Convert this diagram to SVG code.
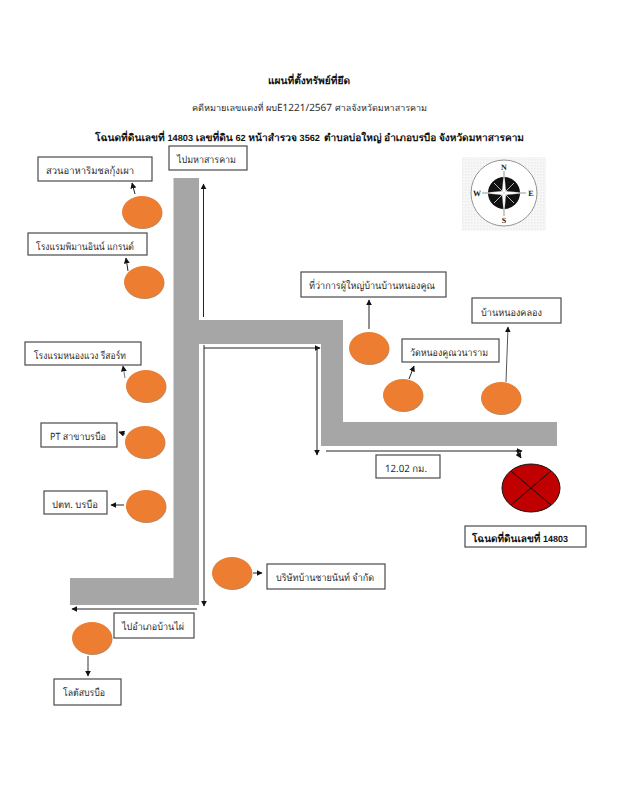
<svg xmlns="http://www.w3.org/2000/svg" width="619" height="800" viewBox="0 0 619 800">
<style>
text{font-family:"Noto Sans","Liberation Sans","DejaVu Sans",sans-serif;fill:#2b2b2b;font-size:10px;text-rendering:geometricPrecision}
.b{font-weight:bold;fill:#111}
.n{font-family:"Liberation Sans",sans-serif;font-size:9px}
.t{font-size:9.100px}
.box{fill:#fff;stroke:#4a4a4a;stroke-width:1.2}
.dot{fill:#ed7d31}
.sh{fill:#b58a68}
.road{fill:#a6a6a6}
.c line{stroke:#222;stroke-width:1;fill:none;marker-end:url(#a)}
.x{stroke:#111;stroke-width:1}
.cp{font-family:"Liberation Serif",serif;font-weight:bold;font-size:8px;text-anchor:middle;fill:#222}
</style>
<defs>
<marker id="a" viewBox="0 0 10 10" refX="9" refY="5" markerWidth="6" markerHeight="6" markerUnits="userSpaceOnUse" orient="auto"><path d="M0 0L10 5L0 10Z" fill="#111"/></marker>
<pattern id="d" width="3" height="3" patternUnits="userSpaceOnUse"><rect width="3" height="3" fill="#f7f7f7"/><rect width="1.5" height="1.5" fill="#ececec"/></pattern>
</defs>
<rect width="619" height="800" fill="#fff"/>
<g id="title">
<text class="b" x="268" y="84" textLength="82" lengthAdjust="spacingAndGlyphs">แผนที่ตั้งทรัพย์ที่ยึด</text>
<text class="t" x="192" y="111" textLength="85" lengthAdjust="spacingAndGlyphs">คดีหมายเลขแดงที่ ผบ</text>
<text x="277" y="111" textLength="55" lengthAdjust="spacingAndGlyphs">E1221/2567</text>
<text class="t" x="335" y="111" textLength="92" lengthAdjust="spacingAndGlyphs">ศาลจังหวัดมหาสารคาม</text>
<text class="b" x="95" y="141" textLength="225" lengthAdjust="spacingAndGlyphs">โฉนดที่ดินเลขที่ <tspan class="n">14803</tspan> เลขที่ดิน <tspan class="n">62</tspan> หน้าสำรวจ <tspan class="n">3562</tspan></text>
<text class="b" x="324" y="141" textLength="200" lengthAdjust="spacingAndGlyphs">ตำบลบ่อใหญ่ อำเภอบรบือ จังหวัดมหาสารคาม</text>
</g>
<g id="roads">
<path class="road" d="M173.500 178H199V320H343V422H557V446H321V344H199V605H70V578H173.500Z"/>
</g>
<g id="compass">
<rect x="462" y="157" width="84" height="74" fill="url(#d)"/>
<circle cx="504" cy="193" r="33" fill="#fff" stroke="#888" stroke-width=".9"/>
<circle cx="504" cy="193" r="16" fill="#111"/>
<path d="M504 171L506 191L526 193L506 195L504 216L502 195L482 193L502 191Z" fill="#fff" stroke="#444" stroke-width=".3"/>
<path d="M494 183L504 193L514 183M494 203L504 193L514 203" fill="none" stroke="#ddd" stroke-width=".8"/>
<text class="cp" x="504" y="170">N</text>
<text class="cp" x="531" y="196">E</text>
<text class="cp" x="504" y="223">S</text>
<text class="cp" x="477" y="196">W</text>
</g>
<g id="connectors" class="c">
<line x1="203.500" y1="317" x2="203.500" y2="184"/>
<line x1="204" y1="348" x2="320" y2="348"/>
<line x1="204" y1="345" x2="204" y2="606"/>
<line x1="317" y1="347" x2="317" y2="455"/>
<line x1="326" y1="451" x2="522" y2="451"/>
<line x1="516" y1="450" x2="521" y2="458"/>
<line x1="197" y1="609" x2="72" y2="609"/>
<line x1="88" y1="656" x2="88" y2="676" style="stroke:#777;stroke-width:1.500"/>
<line x1="124" y1="505" x2="111" y2="505"/>
<line x1="125" y1="434" x2="119" y2="432"/>
<line x1="125" y1="378" x2="123" y2="366" style="stroke:#777"/>
<line x1="128" y1="271" x2="126" y2="258"/>
<line x1="135" y1="194" x2="132" y2="183"/>
<line x1="369" y1="329" x2="369" y2="300"/>
<line x1="409" y1="379" x2="414" y2="366"/>
<line x1="506" y1="382" x2="508" y2="327" style="stroke:#555"/>
<line x1="253" y1="573" x2="262" y2="573"/>
</g>
<g id="n1"><ellipse class="sh" cx="142.500" cy="213" rx="20" ry="16"/><ellipse class="dot" cx="142" cy="212" rx="20" ry="16"/></g>
<g id="n2"><ellipse class="sh" cx="144.500" cy="283" rx="20" ry="16"/><ellipse class="dot" cx="144" cy="282" rx="20" ry="16"/></g>
<g id="n3"><ellipse class="sh" cx="146.500" cy="387" rx="20" ry="16"/><ellipse class="dot" cx="146" cy="386" rx="20" ry="16"/></g>
<g id="n4"><ellipse class="sh" cx="145.500" cy="443" rx="20" ry="16"/><ellipse class="dot" cx="145" cy="442" rx="20" ry="16"/></g>
<g id="n5"><ellipse class="sh" cx="146.500" cy="507" rx="20" ry="16"/><ellipse class="dot" cx="146" cy="506" rx="20" ry="16"/></g>
<g id="n6"><ellipse class="sh" cx="369.500" cy="349" rx="20" ry="16"/><ellipse class="dot" cx="369" cy="348" rx="20" ry="16"/></g>
<g id="n7"><ellipse class="sh" cx="403.500" cy="396" rx="20" ry="16"/><ellipse class="dot" cx="403" cy="395" rx="20" ry="16"/></g>
<g id="n8"><ellipse class="sh" cx="501.500" cy="399" rx="20" ry="16"/><ellipse class="dot" cx="501" cy="398" rx="20" ry="16"/></g>
<g id="n9"><ellipse class="sh" cx="232.500" cy="574" rx="20" ry="16"/><ellipse class="dot" cx="232" cy="573" rx="20" ry="16"/></g>
<g id="n10"><ellipse class="sh" cx="92.500" cy="639" rx="20" ry="16"/><ellipse class="dot" cx="92" cy="638" rx="20" ry="16"/></g>
<g id="target">
<ellipse cx="531" cy="488" rx="29" ry="24" fill="#c00000" stroke="#111" stroke-width="1"/>
<line class="x" x1="511" y1="471" x2="551" y2="505"/>
<line class="x" x1="551" y1="471" x2="511" y2="505"/>
</g>
<g id="l1"><rect class="box" x="38" y="157" width="114" height="24"/><text x="46" y="174" textLength="88" lengthAdjust="spacingAndGlyphs">สวนอาหาริมชลกุ้งเผา</text></g>
<g id="l2"><rect class="box" x="169" y="146" width="78" height="24"/><text x="177" y="163" textLength="59" lengthAdjust="spacingAndGlyphs">ไปมหาสารคาม</text></g>
<g id="l3"><rect class="box" x="28" y="233" width="119" height="22"/><text x="36" y="250" textLength="98" lengthAdjust="spacingAndGlyphs">โรงแรมพิมานอินน์ แกรนด์</text></g>
<g id="l4"><rect class="box" x="301" y="272" width="145" height="25"/><text x="309" y="289" textLength="126" lengthAdjust="spacingAndGlyphs">ที่ว่าการผู้ใหญ่บ้านบ้านหนองคูณ</text></g>
<g id="l5"><rect class="box" x="402" y="339" width="97" height="23"/><text x="410" y="356" textLength="78" lengthAdjust="spacingAndGlyphs">วัดหนองคูณวนาราม</text></g>
<g id="l6"><rect class="box" x="472" y="298" width="89" height="25"/><text x="481" y="316" textLength="61" lengthAdjust="spacingAndGlyphs">บ้านหนองคลอง</text></g>
<g id="l7"><rect class="box" x="25" y="342" width="116" height="23"/><text x="34" y="359" textLength="92" lengthAdjust="spacingAndGlyphs">โรงแรมหนองแวง รีสอร์ท</text></g>
<g id="l8"><rect class="box" x="41" y="423" width="76" height="24"/><text x="50" y="440" textLength="56" lengthAdjust="spacingAndGlyphs">PT สาขาบรบือ</text></g>
<g id="l9"><rect class="box" x="44" y="491" width="63" height="23"/><text x="52" y="508" textLength="46" lengthAdjust="spacingAndGlyphs">ปตท. บรบือ</text></g>
<g id="l10"><rect class="box" x="376" y="455" width="64" height="23"/><text x="385" y="472" textLength="42" lengthAdjust="spacingAndGlyphs">12.02 กม.</text></g>
<g id="l11"><rect class="box" x="465" y="526" width="121" height="21"/><text class="b" x="472" y="542">โฉนดที่ดินเลขที่ <tspan class="n">14803</tspan></text></g>
<g id="l12"><rect class="box" x="267" y="564" width="118" height="25"/><text x="276" y="581" textLength="98" lengthAdjust="spacingAndGlyphs">บริษัทบ้านชายนันท์ จำกัด</text></g>
<g id="l13"><rect class="box" x="114" y="613" width="80" height="25"/><text x="122" y="630" textLength="62" lengthAdjust="spacingAndGlyphs">ไปอำเภอบ้านไผ่</text></g>
<g id="l14"><rect class="box" x="54" y="679" width="67" height="26"/><text x="63" y="696" textLength="42" lengthAdjust="spacingAndGlyphs">โลตัสบรบือ</text></g>
</svg>
